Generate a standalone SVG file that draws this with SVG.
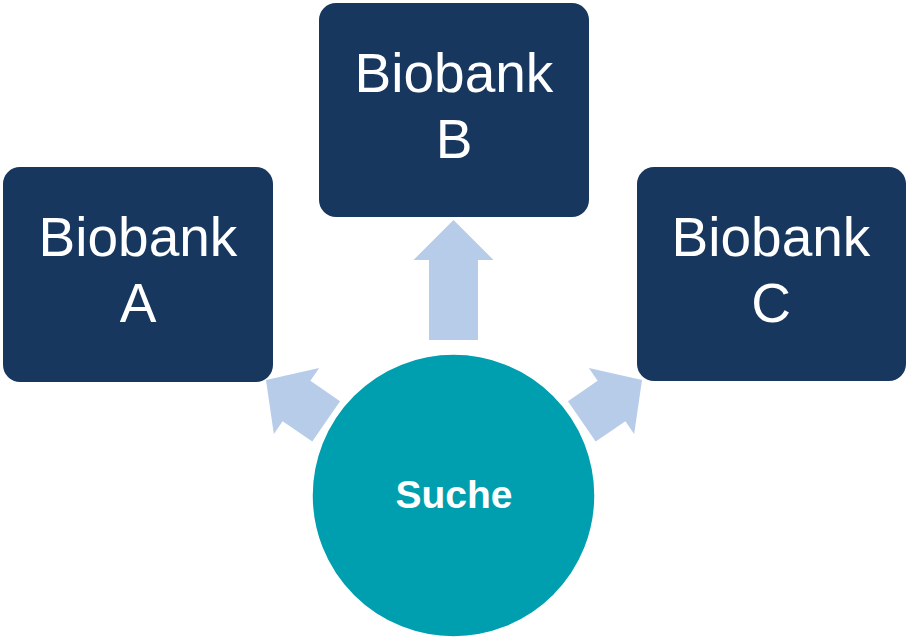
<svg xmlns="http://www.w3.org/2000/svg" width="907" height="638" viewBox="0 0 907 638">
<style>
.box{fill:#17375E;}
.lbl{fill:#ffffff;font-family:"Liberation Sans",Arial,sans-serif;font-size:55px;text-anchor:middle;}
.arrow{fill:#B7CCE8;}
.circ{fill:#009FAF;stroke:#ffffff;stroke-width:1.5;}
.slbl{fill:#ffffff;font-family:"Liberation Sans",Arial,sans-serif;font-size:39px;font-weight:bold;text-anchor:middle;}
</style>
<rect width="907" height="638" fill="#ffffff"/>
<g id="connectors">
<path class="arrow" transform="translate(453.5,220)" d="M0,0 L40,40 L24.5,40 L24.5,120 L-24.5,120 L-24.5,40 L-40,40 Z"/>
<path class="arrow" transform="translate(266,380) rotate(-55.5)" d="M0,0 L40,37 L24.5,37 L24.5,73 L-24.5,73 L-24.5,37 L-40,37 Z"/>
<path class="arrow" transform="translate(642,380) rotate(55.5)" d="M0,0 L40,37 L24.5,37 L24.5,73 L-24.5,73 L-24.5,37 L-40,37 Z"/>
</g>
<g id="biobank-a">
<rect class="box" x="3" y="167" width="270" height="215" rx="17"/>
<text class="lbl" x="138" y="256">Biobank</text>
<text class="lbl" x="138" y="322">A</text>
</g>
<g id="biobank-b">
<rect class="box" x="319" y="3" width="270" height="214" rx="17"/>
<text class="lbl" x="454" y="92">Biobank</text>
<text class="lbl" x="454" y="158">B</text>
</g>
<g id="biobank-c">
<rect class="box" x="637" y="167" width="269" height="214" rx="17"/>
<text class="lbl" x="771" y="256">Biobank</text>
<text class="lbl" x="771" y="322">C</text>
</g>
<g id="suche">
<circle class="circ" cx="453.5" cy="495.5" r="141.5"/>
<text class="slbl" x="454" y="508">Suche</text>
</g>
</svg>
